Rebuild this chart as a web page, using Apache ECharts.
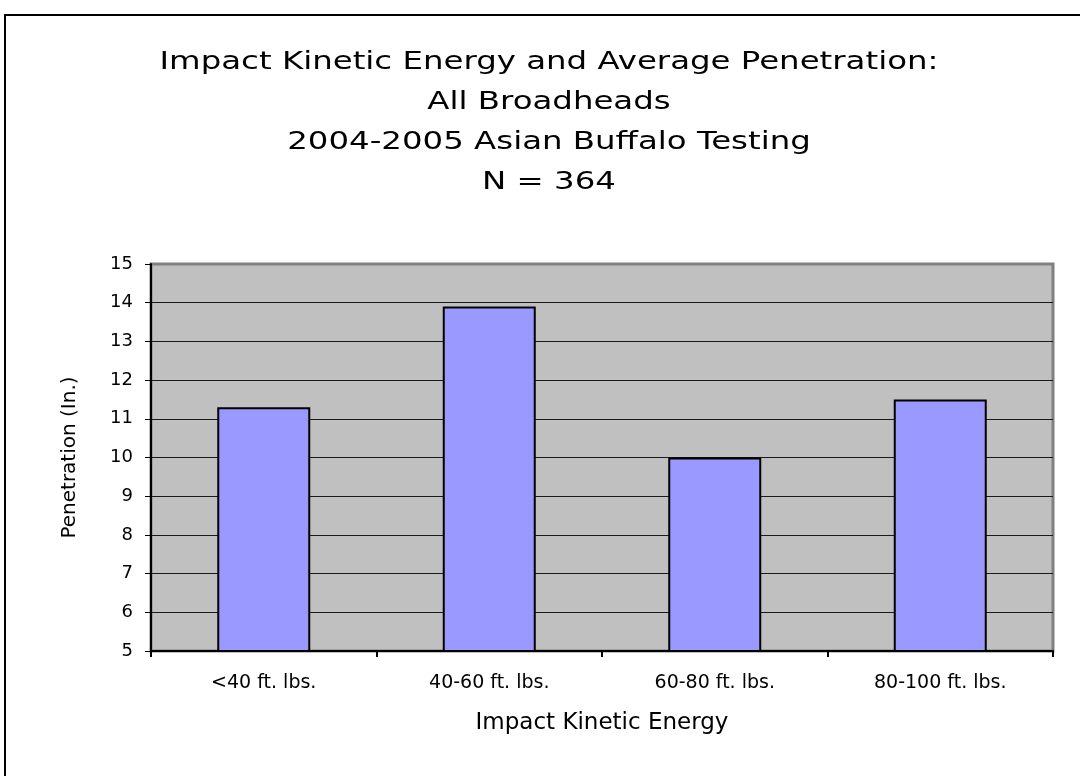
<!DOCTYPE html>
<html>
<head>
<meta charset="utf-8">
<script src="https://cdn.jsdelivr.net/npm/echarts@6/dist/echarts.min.js"></script>
<style>
  html, body { margin: 0; padding: 0; background: #fff; }
  #chart { width: 1080px; height: 776px; }
</style>
</head>
<body>
<div id="chart"></div>
<script>
  // data
  const categories = ['<40 ft. lbs.', '40-60 ft. lbs.', '60-80 ft. lbs.', '80-100 ft. lbs.']
  const penetration = [11.3, 13.9, 10.0, 11.5]
  const titleLines = [
    'Impact Kinetic Energy and Average Penetration:',
    'All Broadheads',
    '2004-2005 Asian Buffalo Testing',
    'N = 364'
  ]

  const myChart = echarts.init(document.getElementById('chart'))
  const font = 'DejaVu Sans'

  // grid lines black, top one grey like the plot border
  const splitColors = []
  for (let i = 0; i < 10; i++) splitColors.push('#1a1a1a')
  splitColors.push('#808080')

  const option = {
    backgroundColor: '#fff',
    animation: false,
    graphic: [
      {
        type: 'rect',
        shape: { x: 5, y: 15, width: 1100, height: 800 },
        style: { fill: 'none', stroke: '#000', lineWidth: 2 },
        silent: true
      }
    ].concat(titleLines.map((t, i) => ({
      type: 'text',
      x: 549,
      y: 63 + i * 40,
      scaleX: 1.35,
      style: {
        text: t,
        font: '24px "' + font + '"',
        fill: '#000',
        align: 'center',
        verticalAlign: 'middle'
      }
    }))),
    grid: {
      left: 151,
      right: 27,
      top: 264,
      bottom: 125,
      show: true,
      backgroundColor: '#c0c0c0',
      borderColor: '#808080',
      borderWidth: 3
    },
    xAxis: {
      type: 'category',
      data: categories,
      name: 'Impact Kinetic Energy',
      nameLocation: 'middle',
      nameGap: 61,
      nameTextStyle: { fontFamily: font, fontSize: 23, color: '#000' },
      axisLine: { lineStyle: { color: '#000', width: 2 } },
      axisTick: { show: true, length: 6, lineStyle: { color: '#000', width: 2 } },
      axisLabel: { fontFamily: font, fontSize: 19, color: '#000', margin: 23 }
    },
    yAxis: {
      type: 'value',
      min: 5,
      max: 15,
      interval: 1,
      name: 'Penetration (In.)',
      nameLocation: 'middle',
      nameGap: 71,
      nameRotate: 90,
      nameTextStyle: { fontFamily: font, fontSize: 20, color: '#000' },
      axisLine: { show: true, lineStyle: { color: '#000', width: 2 } },
      axisTick: { show: true, length: 6, lineStyle: { color: '#000' } },
      axisLabel: { fontFamily: font, fontSize: 18, color: '#000', margin: 18 },
      splitLine: { show: true, lineStyle: { color: splitColors, width: 1 } }
    },
    series: [
      {
        type: 'bar',
        data: penetration,
        barWidth: 93,
        itemStyle: {
          color: '#9999ff',
          borderColor: '#000',
          borderWidth: 2
        }
      }
    ]
  }
  myChart.setOption(option)
</script>
</body>
</html>
